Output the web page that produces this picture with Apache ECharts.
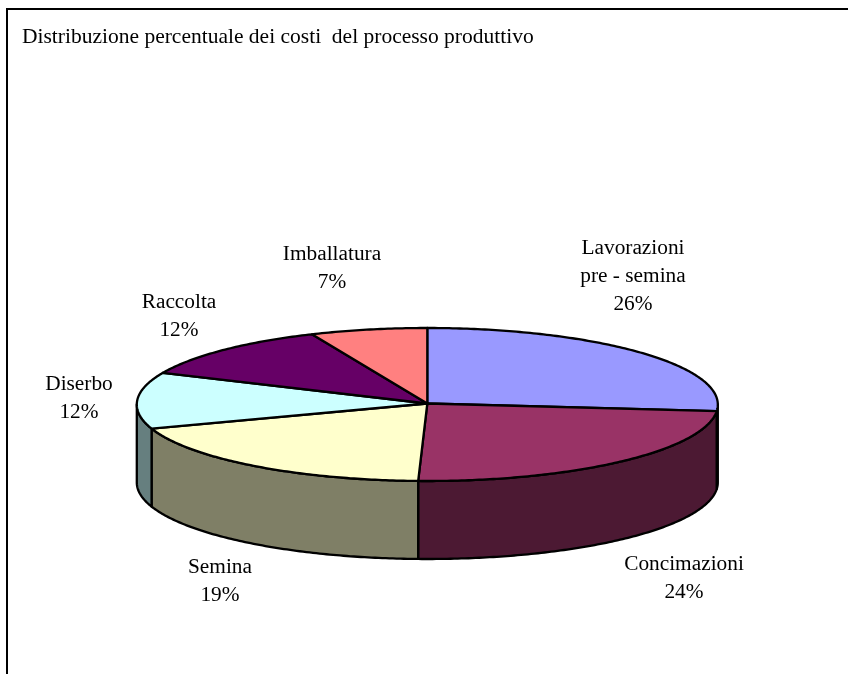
<!DOCTYPE html>
<html>
<head>
<meta charset="utf-8">
<style>html,body{margin:0;padding:0;background:#fff}#c{width:848px;height:674px}</style>
<script src="https://cdn.jsdelivr.net/npm/echarts@6/dist/echarts.min.js"></script>
</head>
<body>
<div id="c"></div>
<script>
var titleText = 'Distribuzione percentuale dei costi  del processo produttivo';
var categories = ['Lavorazioni\npre - semina', 'Concimazioni', 'Semina', 'Diserbo', 'Raccolta', 'Imballatura'];
var values = [26.4, 24.1, 19.4, 11.9, 11.7, 6.5];
var topColors = ['#9999FF', '#993366', '#FFFFCC', '#CCFFFF', '#660066', '#FF8080'];
var sideColors = ['#4C4C7F', '#4C1933', '#7F7F66', '#667F7F', '#330033', '#7F4040'];
var labelCenters = [[633, 276], [684, 578], [220, 581], [79, 398.5], [179, 316.5], [332, 268]];

var CX = 427.3, CY = 404.5, RX = 290.5, RY = 76.5, DEPTH = 78, HUB_Y = 403.5;
var total = values.reduce(function (a, b) { return a + b; }, 0);
function startOf(i) {
  var s = 0;
  for (var k = 0; k < i; k++) s += values[k];
  return s / total * Math.PI * 2;
}
function pt(a, dy) {
  return [CX + RX * Math.sin(a), CY - RY * Math.cos(a) + (dy || 0)];
}
function arcPts(a0, a1, dy) {
  var n = Math.max(2, Math.ceil((a1 - a0) * 80)), out = [];
  for (var i = 0; i <= n; i++) out.push(pt(a0 + (a1 - a0) * i / n, dy));
  return out;
}
var stroke = { stroke: '#000', lineWidth: 2.3, lineJoin: 'round' };
function sideItem(params, api) {
  var i = api.value(0), a0 = startOf(i), a1 = a0 + api.value(1) / total * Math.PI * 2;
  var lo = Math.max(a0, Math.PI / 2), hi = Math.min(a1, Math.PI * 1.5);
  if (hi <= lo) return { type: 'group', children: [] };
  var pts = arcPts(lo, hi, 0).concat(arcPts(lo, hi, DEPTH).reverse());
  return { type: 'polygon', shape: { points: pts },
    style: Object.assign({ fill: sideColors[i] }, stroke) };
}
function topItem(params, api) {
  var i = api.value(0), a0 = startOf(i), a1 = a0 + api.value(1) / total * Math.PI * 2;
  var pts = [[CX, HUB_Y]].concat(arcPts(a0, a1, 0));
  return { type: 'polygon', shape: { points: pts },
    style: Object.assign({ fill: topColors[i] }, stroke) };
}
function labelItem(params, api) {
  var i = api.value(0);
  return { type: 'text', x: labelCenters[i][0], y: labelCenters[i][1],
    style: { text: categories[i] + '\n' + Math.round(api.value(1)) + '%',
      fill: '#000', font: '21.33px "Liberation Serif"', lineHeight: 28,
      align: 'center', verticalAlign: 'middle' } };
}
var seriesData = values.map(function (v, i) { return [i, v]; });
var chart = echarts.init(document.getElementById('c'), null, { renderer: 'canvas' });
chart.setOption({
  animation: false,
  backgroundColor: '#fff',
  title: { text: titleText, left: 22, top: 26, padding: 0,
    textStyle: { fontFamily: 'Liberation Serif', fontWeight: 'normal', fontSize: 21.5, color: '#000' } },
  graphic: [{ type: 'polyline', silent: true, z: 0,
    shape: { points: [[7, 674], [7, 9], [848, 9]] },
    style: { stroke: '#000', lineWidth: 2, fill: null } }],
  series: [
    { type: 'custom', coordinateSystem: 'none', renderItem: sideItem, data: seriesData, z: 2, silent: true },
    { type: 'custom', coordinateSystem: 'none', renderItem: topItem, data: seriesData, z: 3, silent: true },
    { type: 'custom', coordinateSystem: 'none', renderItem: labelItem, data: seriesData, z: 4, silent: true }
  ]
});
</script>
</body>
</html>
